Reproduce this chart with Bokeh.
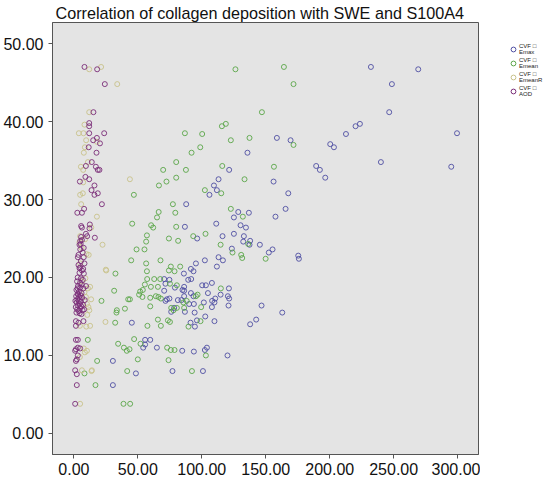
from bokeh.plotting import figure
from bokeh.layouts import row
from bokeh.models import Legend, LegendItem, NumeralTickFormatter, FixedTicker, Range1d
from bokeh.embed import file_html
from bokeh.resources import INLINE

title_text = "Correlation of collagen deposition with SWE and S100A4"
series_names = ["CVF \u25a1\nEmax", "CVF \u25a1\nEmean", "CVF \u25a1\nEmeanR", "CVF \u25a1\nAOD"]
x_ticks = [0, 50, 100, 150, 200, 250, 300]
y_ticks = [0, 10, 20, 30, 40, 50]

emax_x = [232.2, 269.2, 248.6, 246.5, 220.2, 223.6, 212.7, 299.5, 200.4, 203.3, 240, 295,
          158.7, 169.4, 135.7, 121.4, 189.4, 192.3, 196.5, 113.1, 156.1, 109.5, 111.8, 106, 167.6,
          128.5, 136.8, 125.1, 165.5, 157.6, 87.8,
          86.8, 111.3, 130.3, 134.5, 96.4, 116.2, 125.1, 132.9, 132.4, 137.8, 137.3, 145.4, 123.5,
          152.4, 155.3, 175.4, 175.9, 113.1, 102.4, 116.5, 95.4, 111.8, 91.5, 93.5, 86, 91.7, 89.4,
          107.9, 103.2, 100.3, 86.2, 84.9, 86.2, 121.2, 91.5, 93.5, 104.8, 86.2, 114.7, 120.4, 121.4,
          110.5, 108.1, 109.9, 101.6, 93.8, 90.1, 107.9, 120.9, 86.8, 94.4, 146.7, 162.9, 102.7,
          142.5, 137.8, 96.2, 91.2, 94.6, 109.9, 84.7, 93.8, 104, 102.4, 120.1, 100.9,
          70.6, 71.6, 74.7, 70.6, 79, 72.7, 71.6, 74.7, 81.3, 84.1, 78.4, 76.1, 45.3, 55.7, 59.7,
          55.7, 54.2, 64.9, 30.5, 48.5, 77.1, 30.5]
emax_y = [47.0, 46.7, 44.8, 41.2, 39.4, 39.7, 38.4, 38.5, 37.1, 36.7, 34.8, 34.2,
          37.9, 37.6, 36.0, 33.8, 34.3, 33.8, 32.8, 32.6, 32.3, 31.8, 31.2, 30.6, 30.8,
          28.4, 28.3, 27.7, 28.8, 27.8, 29.4,
          26.5, 26.9, 26.7, 26.4, 25.0, 25.3, 25.6, 25.3, 24.6, 24.7, 24.2, 24.2, 23.7,
          23.2, 23.6, 22.8, 22.4, 22.6, 22.2, 22.2, 21.8, 21.4, 21.1, 20.8, 20.5, 19.8, 19.7,
          19.3, 19.0, 19.0, 18.8, 18.4, 18.3, 18.6, 18.0, 17.6, 18.0, 17.6, 17.8, 17.6, 17.3,
          17.3, 17.0, 16.8, 16.8, 16.6, 16.6, 16.2, 16.4, 15.6, 15.5, 16.4, 15.5, 15.0,
          14.6, 14.0, 14.5, 14.2, 13.7, 14.4, 10.6, 10.5, 11.0, 10.7, 10.0, 8.0,
          19.8, 19.2, 19.7, 18.3, 18.7, 17.2, 17.0, 17.3, 17.1, 17.1, 16.1, 15.6, 14.2, 12.0, 12.0,
          11.4, 11.0, 11.0, 9.3, 7.7, 8.0, 6.2]

emean_x = [126.3, 164.2, 171.7, 147, 115.7, 118.8, 100.3, 122.7, 137.3, 171.7, 98.8, 92, 116, 156.4,
           133.4, 102.4, 115.2, 122.7, 132.1,
           46.9, 86.8, 80, 69.8, 87.6, 80, 72.4, 66.5, 77.4, 66.3, 79.3, 65,
           93.3, 102.9, 136.3, 114.7, 124, 130.8, 131.6, 149.9, 83.1, 114.9, 96.7, 95.4, 88.2, 85.6,
           86.2, 99.5, 99, 89.6, 103.2, 92.3,
           45.6, 60.4, 62, 80, 57.1, 56.5, 74.3, 81.5, 49, 55.2, 44.8, 56.5, 67.7, 75.8, 74.3, 78.7,
           32.5, 57.1, 57.3, 62.8, 67.5, 55.5, 60.2, 65.7, 75.1, 80.5, 31.5, 51.8, 53.9, 51, 53.6,
           59.7, 64.1, 66.1, 68, 42.5, 43.8, 21.6, 59.7, 39.9, 33.6, 33.3, 76.1, 77.9, 80.5, 32.3,
           65.7, 73.5, 75.1, 57.5, 68, 10.9, 47.1, 34.6, 39.1, 41.4, 43.5, 52.1, 50, 72.9, 75.8,
           78.7, 18.2, 41.7, 74, 16.9, 38.8, 44, 8.3]
emean_y = [46.7, 47.0, 44.8, 41.2, 39.4, 39.7, 38.4, 37.6, 37.9, 37.0, 36.7, 36.0, 34.3, 34.2,
           32.6, 31.2, 30.8, 28.8, 27.8,
           30.6, 38.5, 34.8, 33.8, 33.8, 32.8, 32.3, 31.8, 29.4, 28.4, 28.3, 27.7,
           25.3, 25.6, 24.3, 24.2, 23.2, 22.9, 22.5, 22.4, 21.4, 18.6, 17.8, 17.6, 17.0, 16.8,
           16.1, 16.2, 14.4, 13.7, 10.0, 8.0,
           26.9, 26.7, 26.4, 26.5, 25.4, 24.6, 25.0, 24.7, 23.6, 23.6, 22.2, 21.8, 22.2, 21.4, 20.9, 20.8,
           20.5, 20.8, 19.8, 19.8, 19.8, 19.1, 18.8, 18.8, 19.2, 19.0, 18.3, 18.2, 18.4, 17.8, 17.5,
           17.4, 17.6, 17.5, 17.3, 17.2, 17.2, 17.0, 16.3, 16.0, 15.8, 15.5, 16.1, 15.8, 16.1, 14.2,
           14.6, 14.5, 14.3, 13.8, 13.8, 12.0, 12.1, 11.5, 11.0, 10.6, 10.8, 11.5, 9.5, 11.0, 10.7,
           10.7, 9.3, 8.0, 9.4, 6.2, 3.8, 3.8, 7.7]

emeanr_x = [12, 21.3, 33.9, 12, 8.3, 3.9, 7.5, 9.6, 8.6, 18, 7.8, 11, 5.5, 7.3, 7.3, 4.9, 7, 5.7,
            18, 43.8, 22.4, 25, 4.4, 6.0, 11.6, 5.0, 25.3, 24.7, 12.7, 13.8, 4.9,
            12.7, 11, 8.3, 9.4, 10.2, 11.4, 4.7, 9.7, 7.8, 10.2, 8.6, 4.7, 6.3, 14.1, 4.9,
            6.5, 9, 10.5, 12.1, 13.5, 8.8, 9.9, 13.6]
emeanr_y = [46.7, 47.0, 44.8, 41.2, 39.6, 38.5, 38.5, 37.6, 36.7, 37.4, 36.0, 34.8, 34.2, 33.8,
            32.2, 30.6, 30.8, 29.4, 27.8, 32.6, 24.2, 21.0, 24.5, 23.8, 22.9, 21.8, 20.9, 14.3,
            13.8, 8.0, 25.3,
            18.8, 18.6, 18.1, 17.5, 16.6, 16.2, 13.8, 13.7, 10.9, 10.6, 10.4, 9.8, 8.1, 8.1, 3.8,
            19.5, 19.9, 15.2, 15.8, 17.2, 24.9, 23.0, 26.4]

aod_x = [8.3, 18.2, 24.2, 15.3, 12, 12, 12, 23.7, 15.1, 18, 20.4, 11.6, 17.7, 14, 9.4, 17.2, 18.7,
         20, 9, 4.7, 12, 16.1, 13.8, 16.1, 18.7, 21.9, 2.7, 6.3, 8,
         5.7, 12.5, 6.3, 12.2, 9.4, 10.4, 16.4, 5.7, 5.0, 6.3, 5.3, 4.4, 7.7, 5.0, 6.9, 3.6, 3.1,
         7.7, 5.5, 8.3, 3.6, 5.0, 7.3, 4.4, 6.3, 4.4, 7.8,
         3.0, 5.5, 7.0, 2.5, 4.8, 6.2, 3.2, 5.0, 7.5, 2.0, 4.0, 6.0, 3.0, 5.2, 1.8, 4.2, 6.5, 2.8,
         3.8, 5.5, 2.2, 4.6, 7.2, 3.2, 1.5, 5.0, 2.6, 4.0, 6.8, 2.0, 4.5, 3.4, 2.9, 5.8, 8.5, 9.5,
         1.2, 6.0, 8.0,
         1.6, 3.6, 7.5, 1.6, 3.1, 1.6, 3.1, 1.6, 4.9, 1.0, 3.1, 2.3, 1.6, 1.0, 2.3, 2.3, 1.0]
aod_y = [47.0, 46.7, 44.8, 41.2, 39.8, 39.4, 38.5, 38.5, 37.6, 37.9, 37.2, 36.7, 36.0, 34.8, 34.3,
         34.2, 33.8, 33.8, 32.9, 32.3, 32.6, 31.8, 31.2, 30.6, 30.8, 29.4, 28.3, 28.3, 28.8,
         26.6, 26.8, 26.4, 26.3, 25.6, 25.3, 25.1, 25.2, 24.7, 24.8, 24.3, 24.2, 23.8, 23.6, 23.2,
         22.9, 22.6, 22.6, 22.1, 21.8, 21.6, 21.3, 21.1, 21.2, 20.9, 20.6, 20.5,
         20.0, 19.9, 19.7, 19.5, 19.3, 19.1, 18.9, 18.7, 18.6, 18.4, 18.2, 18.0, 17.9, 17.7, 17.6,
         17.5, 17.4, 17.2, 17.0, 16.9, 16.8, 16.6, 16.5, 16.4, 16.2, 16.1, 15.9, 15.7, 15.8, 15.5,
         15.4, 17.8, 18.6, 16.3, 17.1, 18.9, 17.0, 15.3, 15.9,
         14.4, 14.2, 14.4, 13.8, 12.0, 12.0, 11.0, 10.8, 10.9, 10.6, 10.0, 9.5, 9.3, 8.1, 7.6, 6.2, 3.8]

colors = ["#4f4fa3", "#5aa648", "#c8c28a", "#7a2c78"]
xs = [emax_x, emean_x, emeanr_x, aod_x]
ys = [emax_y, emean_y, emeanr_y, aod_y]

FONT = "Liberation Sans"

p = figure(width=480, height=480, output_backend="svg", toolbar_location=None,
           x_range=Range1d(-16.7, 316.3), y_range=Range1d(-2.7, 52.7),
           min_border_left=52, min_border_right=2, min_border_top=22, min_border_bottom=26)
p.background_fill_color = "#e4e4e4"
p.border_fill_color = "white"
p.outline_line_color = "#555555"
p.outline_line_width = 1
p.xgrid.visible = False
p.ygrid.visible = False

p.title.text = title_text
p.title.text_font = FONT
p.title.text_font_size = "16.2px"
p.title.text_font_style = "normal"
p.title.text_color = "#111111"
p.title.align = "left"
p.title.offset = 3
p.title.standoff = 2

for ax, ticks in ((p.xaxis, x_ticks), (p.yaxis, y_ticks)):
    ax.ticker = FixedTicker(ticks=ticks)
    ax.formatter = NumeralTickFormatter(format="0.00")
    ax.major_tick_in = 0
    ax.major_tick_out = 4
    ax.minor_tick_line_color = None
    ax.major_tick_line_color = "#555555"
    ax.axis_line_color = "#555555"
    ax.major_label_text_font = FONT
    ax.major_label_text_font_size = "16px"
    ax.major_label_text_color = "#111111"
p.xaxis.major_label_standoff = 4
p.yaxis.major_label_standoff = 5

for x, y, c in zip(xs, ys, colors):
    p.scatter(x, y, marker="circle", size=5, fill_alpha=0, line_color=c, line_width=0.9)

# legend-only side figure: one swatch per series, using each series' first point
# (which lies outside this small figure's range, so only the legend shows it)
lg = figure(width=64, height=480, output_backend="svg", toolbar_location=None,
            x_range=Range1d(-2, -1), y_range=Range1d(-2, -1),
            min_border_left=0, min_border_right=0, min_border_top=0, min_border_bottom=0)
lg.axis.visible = False
lg.xgrid.visible = False
lg.ygrid.visible = False
lg.outline_line_color = None
lg.background_fill_color = "white"
swatches = [lg.scatter(x[:1], y[:1], marker="circle", size=5, fill_alpha=0, line_color=c, line_width=1)
            for x, y, c in zip(xs, ys, colors)]
items = [LegendItem(label=n, renderers=[r]) for n, r in zip(series_names, swatches)]
legend = Legend(items=items, location=(27, 356), label_text_font=FONT,
                label_text_font_size="6px", label_text_color="#222222",
                glyph_width=12, glyph_height=14,
                label_standoff=0, spacing=0, padding=0, margin=0,
                background_fill_alpha=0, border_line_alpha=0)
lg.add_layout(legend, "center")

layout = row(p, lg, spacing=0)
open("out.html", "w").write(file_html(layout, INLINE))
